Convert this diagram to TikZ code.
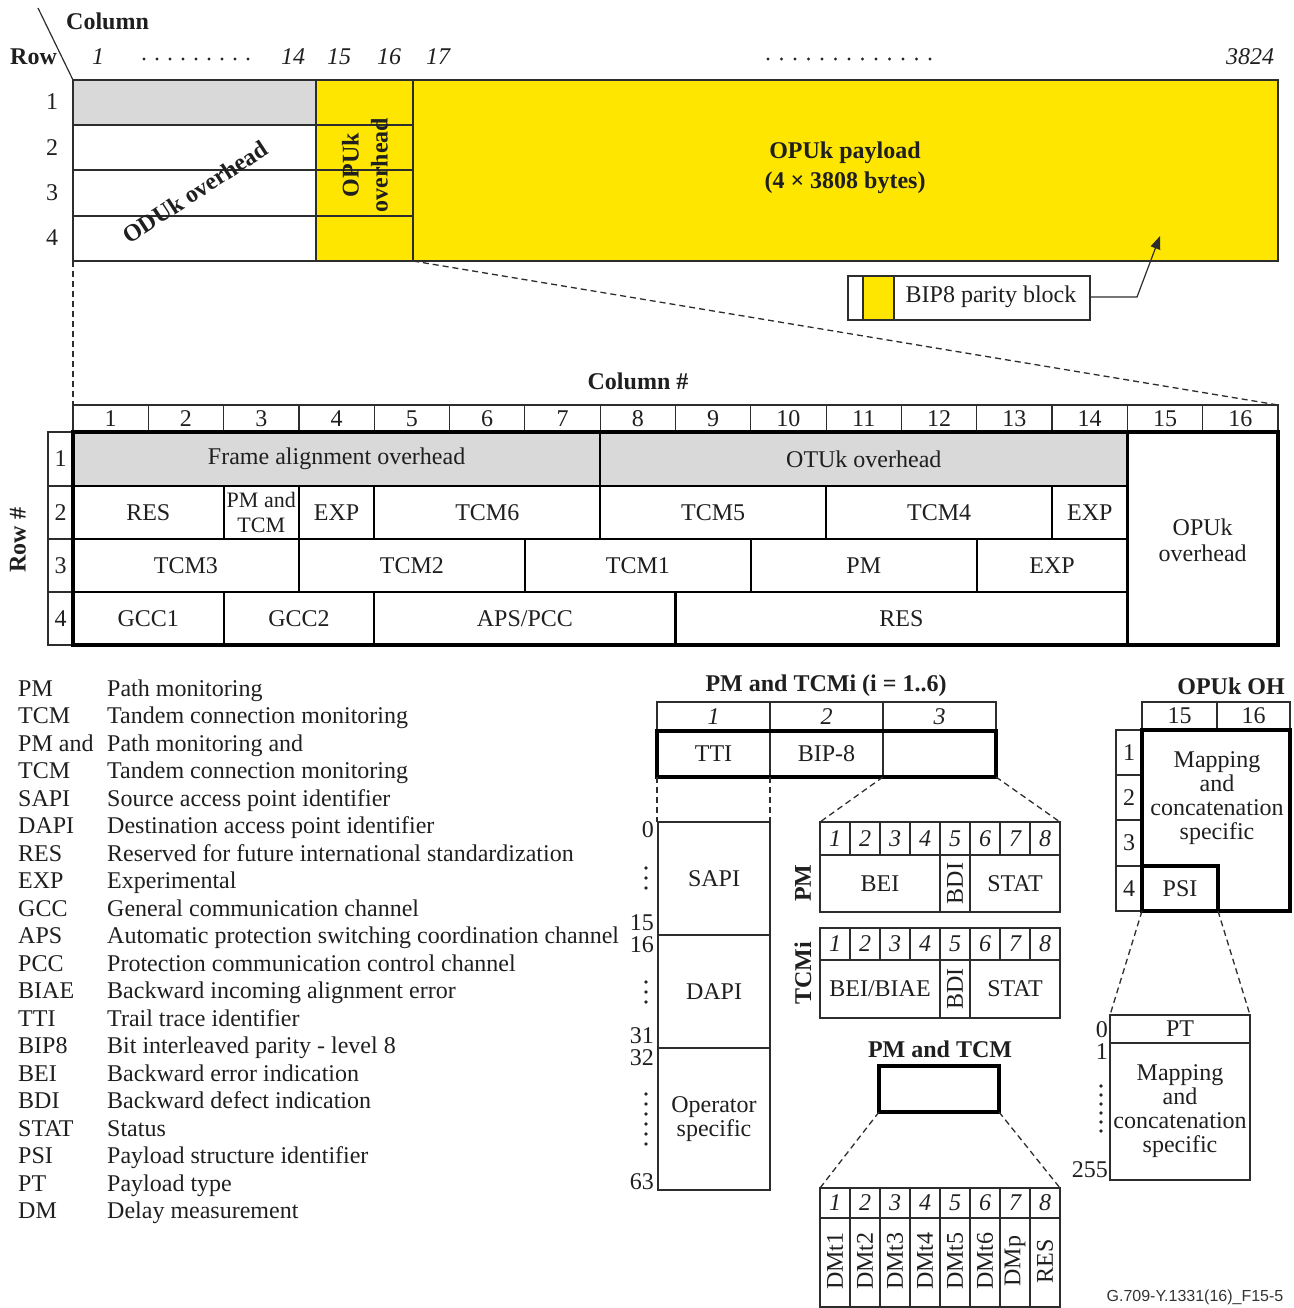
\documentclass[tikz,border=0pt]{standalone}
\usepackage{fontspec}
\setmainfont{Liberation Serif}
\newfontfamily\footfont{Liberation Sans}
\usetikzlibrary{arrows.meta}
\definecolor{ylw}{RGB}{255,230,0}
\definecolor{gry}{RGB}{217,217,217}
\definecolor{ln}{RGB}{45,45,45}
\newcommand\cellbx[7]{\draw[#1] (#3,#4) rectangle (#5,#6); \node[txt,align=center] (#2) at ({(#3+#5)/2},{(#4+#6)/2}) {#7};}
\begin{document}
\begin{tikzpicture}[x=1pt,y=-1pt,
 txt/.style={font=\fontsize{24}{24}\selectfont, inner sep=0pt, text=black!88},
 btxt/.style={txt, font=\fontsize{24}{24}\selectfont\bfseries},
 itxt/.style={txt, font=\fontsize{24}{24}\selectfont\itshape},
 frameln/.style={draw=ln, line width=1.5pt},
 thinln/.style={draw=ln, line width=1.2pt},
 medln/.style={draw=black, line width=2.2pt},
 thkln/.style={draw=black, line width=3.4pt},
 dsh/.style={draw=ln, line width=1.3pt, dash pattern=on 6pt off 4pt}]
\useasboundingbox (0,0) rectangle (1293,1308);

% ---------- top frame ----------
\coordinate (diagA) at (38,8); \coordinate (diagB) at (73,80);
\draw[thinln] (diagA) -- (diagB);
\node[btxt,anchor=base west] (colhd) at (66,30) {Column};
\node[btxt,anchor=base west] (rowhd) at (10,65) {Row};
\node[itxt] (tc1) at (98,57) {1};
\node[itxt] (tc14) at (293,57) {14};
\node[itxt] (tc15) at (339,57) {15};
\node[itxt] (tc16) at (389,57) {16};
\node[itxt] (tc17) at (438,57) {17};
\node[itxt] (tc3824) at (1250,57) {3824};
\foreach \i in {0,...,8} \fill[black!85] (144+\i*13,59) circle (1.7);
\foreach \i in {0,...,12} \fill[black!85] (768+\i*13.5,59) circle (1.7);

\fill[gry] (73,80) rectangle (316,125);
\fill[ylw] (316,80) rectangle (1278,261);
\draw[frameln] (73,80) rectangle (1278,261);
\foreach \y in {125,170,216} \draw[frameln] (73,\y) -- (413,\y);
\draw[frameln] (316,80) -- (316,261);
\draw[frameln] (413,80) -- (413,261);
\node[txt] (tr1) at (52,102) {1};
\node[txt] (tr2) at (52,148) {2};
\node[txt] (tr3) at (52,193) {3};
\node[txt] (tr4) at (52,238) {4};
\node[btxt,rotate=33] (odu) at (195,192) {ODUk overhead};
\node[txt,rotate=90,align=center,font=\fontsize{24}{29}\selectfont\bfseries] (opuoh) at (365,165) {OPUk\\overhead};
\node[txt,align=center,font=\fontsize{24}{30}\selectfont\bfseries] (payload) at (845,168) {OPUk payload\\(4 × 3808 bytes)};

% BIP8 parity block
\draw[thinln,fill=white] (848,276) rectangle (1090,320);
\draw[thinln,fill=ylw] (863,276) rectangle (894,320);
\node[txt] (bip) at (991,297) {BIP8 parity block};
\coordinate (bipR) at (1090,297); \coordinate (bipK) at (1137,297); \coordinate (bipT) at (1160,236);
\draw[thinln,-{Triangle[length=13pt,width=10pt]}] (bipR) -- (bipK) -- (bipT);

% dashed expansion lines
\coordinate (topBL) at (73,261); \coordinate (topOR) at (413,261);
\coordinate (midTL) at (73,405); \coordinate (midTR) at (1278,405);
\draw[dsh] (topBL) -- (midTL);
\draw[dsh] (topOR) -- (midTR);

% ---------- middle table ----------
\node[btxt] (colnum) at (638,381) {Column \#};
\foreach \i [evaluate=\i as \xa using 73+(\i-1)*75.3125, evaluate=\i as \xb using 73+\i*75.3125] in {1,...,16} {
  \draw[thinln] (\xa,405) rectangle (\xb,432);
  \node[txt] (mh\i) at ({(\xa+\xb)/2},419) {\i};
}
\foreach \r/\ya/\yb in {1/432/486,2/486/539,3/539/592,4/592/645} {
  \draw[thinln] (48,\ya) rectangle (73,\yb);
  \node[txt] (mr\r) at (60.5,{(\ya+\yb)/2}) {\r};
}
\node[btxt,rotate=90] (rowlbl) at (18,540) {Row \#};

\cellbx{medln,fill=gry}{fao}{73}{432}{600.2}{486}{Frame alignment overhead}
\cellbx{medln,fill=gry}{otuoh}{600.2}{432}{1127.4}{486}{OTUk overhead}
\cellbx{medln}{res2}{73}{486}{223.6}{539}{RES}
\draw[medln] (223.6,486) rectangle (298.9,539);
\node[txt,align=center,font=\fontsize{22}{25}\selectfont] (pmtc2) at (261.25,512.5) {PM and\\TCM};
\cellbx{medln}{exp2a}{298.9}{486}{374.3}{539}{EXP}
\cellbx{medln}{tcm6}{374.3}{486}{600.2}{539}{TCM6}
\cellbx{medln}{tcm5}{600.2}{486}{826.1}{539}{TCM5}
\cellbx{medln}{tcm4}{826.1}{486}{1052.1}{539}{TCM4}
\cellbx{medln}{exp2b}{1052.1}{486}{1127.4}{539}{EXP}
\cellbx{medln}{tcm3}{73}{539}{298.9}{592}{TCM3}
\cellbx{medln}{tcm2}{298.9}{539}{524.9}{592}{TCM2}
\cellbx{medln}{tcm1}{524.9}{539}{750.8}{592}{TCM1}
\cellbx{medln}{pm3}{750.8}{539}{976.8}{592}{PM}
\cellbx{medln}{exp3}{976.8}{539}{1127.4}{592}{EXP}
\cellbx{medln}{gcc1}{73}{592}{223.6}{645}{GCC1}
\cellbx{medln}{gcc2}{223.6}{592}{374.3}{645}{GCC2}
\cellbx{medln}{apspcc}{374.3}{592}{675.5}{645}{APS/PCC}
\cellbx{medln}{res4}{675.5}{592}{1127.4}{645}{RES}
\draw[medln] (1127.4,432) rectangle (1278,645);
\node[txt,align=center,font=\fontsize{24}{26}\selectfont] (opumid) at (1202.7,540) {OPUk\\overhead};
\draw[thkln] (73,432) rectangle (1278,645);

% ---------- legend ----------
\foreach \a/\d [count=\k from 0] in {PM/Path monitoring, TCM/Tandem connection monitoring, PM and/Path monitoring and, TCM/Tandem connection monitoring, SAPI/Source access point identifier, DAPI/Destination access point identifier, RES/Reserved for future international standardization, EXP/Experimental, GCC/General communication channel, APS/Automatic protection switching coordination channel, PCC/Protection communication control channel, BIAE/Backward incoming alignment error, TTI/Trail trace identifier, BIP8/Bit interleaved parity - level 8, BEI/Backward error indication, BDI/Backward defect indication, STAT/Status, PSI/Payload structure identifier, PT/Payload type, DM/Delay measurement} {
  \node[txt,anchor=base west] (la\k) at (18,{696+27.5*\k}) {\a};
  \node[txt,anchor=base west] (ld\k) at (107,{696+27.5*\k}) {\d};
}

% ---------- PM and TCMi ----------
\node[btxt] (pmti) at (826,686) {PM and TCMi (i = 1..6)};
\draw[thinln] (657,702) rectangle (770,731); \node[itxt] (ph1) at (713.5,716.5) {1};
\draw[thinln] (770,702) rectangle (883,731); \node[itxt] (ph2) at (826.5,716.5) {2};
\draw[thinln] (883,702) rectangle (996,731); \node[itxt] (ph3) at (939.5,716.5) {3};
\cellbx{thinln}{tti}{657}{731}{770}{777}{TTI}
\cellbx{thinln}{bip8c}{770}{731}{883}{777}{BIP-8}
\draw[thinln] (883,731) rectangle (996,777);
\draw[thkln] (657,731) rectangle (996,777);
\coordinate (ttiBL) at (657,777); \coordinate (ttiBR) at (770,777);
\coordinate (b3BL) at (883,777); \coordinate (b3BR) at (996,777);
\coordinate (sapiTL) at (657,822); \coordinate (sapiTR) at (770,822);
\coordinate (pmTL) at (820,822); \coordinate (pmTR) at (1060,822);
\draw[dsh] (ttiBL) -- (sapiTL);
\draw[dsh] (ttiBR) -- (sapiTR);
\draw[dsh] (b3BL) -- (pmTL);
\draw[dsh] (b3BR) -- (pmTR);

\cellbx{thinln}{sapi}{658}{822}{770}{935}{SAPI}
\cellbx{thinln}{dapi}{658}{935}{770}{1048}{DAPI}
\cellbx{thinln}{opsp}{658}{1048}{770}{1190}{Operator\\specific}
\node[txt,anchor=east] (n0) at (654,830) {0};
\node[txt,anchor=east] (n15) at (654,923) {15};
\node[txt,anchor=east] (n16) at (654,945) {16};
\node[txt,anchor=east] (n31) at (654,1036) {31};
\node[txt,anchor=east] (n32) at (654,1058) {32};
\node[txt,anchor=east] (n63) at (654,1182) {63};
\foreach \y in {868,878,888,982,992,1002,1094,1104,1114,1124,1134,1144} \fill[black!85] (646,\y) circle (1.8);

% PM bits
\foreach \i [evaluate=\i as \xa using 820+(\i-1)*30] in {1,...,8} {
  \draw[thinln] (\xa,822) rectangle (\xa+30,855);
  \node[itxt] (pmb\i) at (\xa+15,839) {\i};
  \draw[thinln] (\xa,928) rectangle (\xa+30,960);
  \node[itxt] (tcb\i) at (\xa+15,944) {\i};
  \draw[thinln] (\xa,1188) rectangle (\xa+30,1218);
  \node[itxt] (dmb\i) at (\xa+15,1203) {\i};
}
\cellbx{thinln}{bei}{820}{855}{940}{912}{BEI}
\draw[thinln] (940,855) rectangle (970,912);
\node[txt,rotate=90] (bdi1) at (955,883.5) {BDI};
\cellbx{thinln}{stat1}{970}{855}{1060}{912}{STAT}
\node[btxt,rotate=90] (pmlbl) at (803,883) {PM};

\cellbx{thinln}{beibiae}{820}{960}{940}{1018}{BEI/BIAE}
\draw[thinln] (940,960) rectangle (970,1018);
\node[txt,rotate=90] (bdi2) at (955,989) {BDI};
\cellbx{thinln}{stat2}{970}{960}{1060}{1018}{STAT}
\node[btxt,rotate=90] (tcmlbl) at (803,973) {TCMi};

% PM and TCM
\node[btxt] (pmtcm) at (940,1049) {PM and TCM};
\draw[thkln] (879,1066) rectangle (999,1112);
\coordinate (ptBL) at (879,1112); \coordinate (ptBR) at (999,1112);
\coordinate (dmTL) at (820,1188); \coordinate (dmTR) at (1060,1188);
\draw[dsh] (ptBL) -- (dmTL);
\draw[dsh] (ptBR) -- (dmTR);
\foreach \t [count=\i, evaluate=\i as \xa using 820+(\i-1)*30] in {DMt1,DMt2,DMt3,DMt4,DMt5,DMt6,DMp,RES} {
  \draw[thinln] (\xa,1218) rectangle (\xa+30,1307);
  \node[txt,rotate=90] (dm\i) at (\xa+15,1261) {\t};
}

% ---------- OPUk OH ----------
\node[btxt] (opuoh2) at (1231,686) {OPUk OH};
\cellbx{thinln}{oh15}{1142}{702}{1217}{730}{15}
\cellbx{thinln}{oh16}{1217}{702}{1290}{730}{16}
\foreach \r/\ya/\yb in {1/730/775,2/775/820,3/820/866,4/866/911} {
  \draw[thinln] (1116,\ya) rectangle (1142,\yb);
  \node[txt] (or\r) at (1129,{(\ya+\yb)/2}) {\r};
}
\draw[thkln] (1142,730) rectangle (1290,911);
\draw[thkln] (1142,866) -- (1218,866) -- (1218,911);
\node[txt,align=center] (mapc) at (1217,798) {Mapping\\and\\concatenation\\specific};
\node[txt] (psi) at (1180,889) {PSI};
\coordinate (psiBL) at (1142,911); \coordinate (psiBR) at (1218,911);
\coordinate (ptTL) at (1110,1015); \coordinate (ptTR) at (1250,1015);
\draw[dsh] (psiBL) -- (ptTL);
\draw[dsh] (psiBR) -- (ptTR);
\cellbx{thinln}{ptc}{1110}{1015}{1250}{1043}{PT}
\cellbx{thinln}{mapc2}{1110}{1043}{1250}{1180}{Mapping\\and\\concatenation\\specific}
\node[txt,anchor=east] (p0) at (1108,1030) {0};
\node[txt,anchor=east] (p1) at (1108,1052) {1};
\node[txt,anchor=east] (p255) at (1108,1170) {255};
\foreach \y in {1086,1095,1104,1113,1122,1131} \fill[black!85] (1101,\y) circle (1.8);

\node[font=\footfont\fontsize{16}{18}\selectfont,text=black!80,inner sep=0pt] (foot) at (1195,1297) {G.709-Y.1331(16)\_F15-5};
\end{tikzpicture}
\end{document}
